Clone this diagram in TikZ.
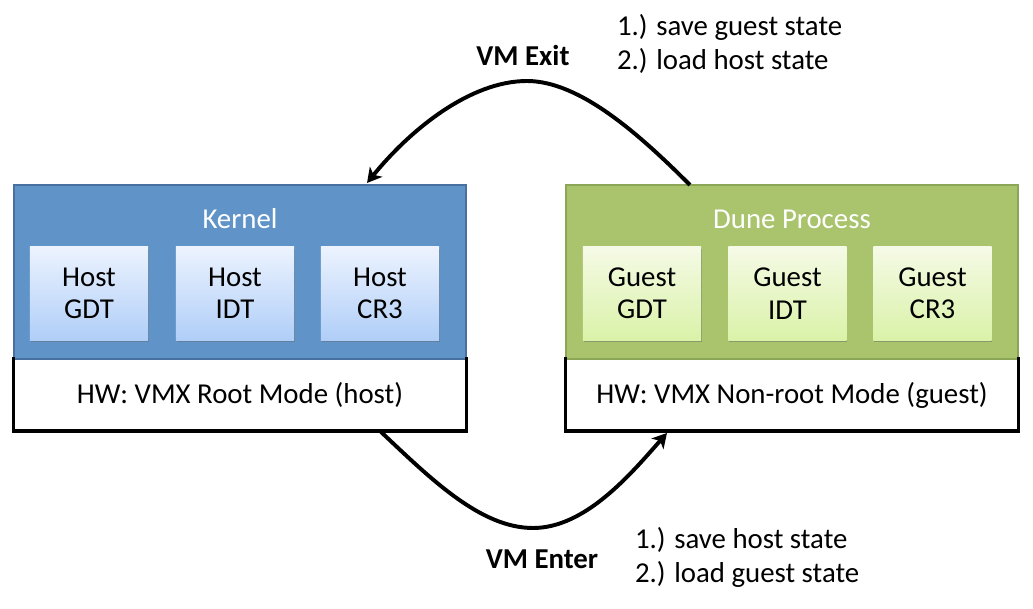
\documentclass[tikz,border=0pt]{standalone}
\usepackage{fontspec}
\setmainfont{Carlito}
\usetikzlibrary{arrows.meta,shadows}

\definecolor{kernelfill}{RGB}{96,148,200}
\definecolor{kerneledge}{RGB}{72,112,160}
\definecolor{dunefill}{RGB}{169,196,108}
\definecolor{duneedge}{RGB}{140,166,88}
\definecolor{hosttop}{RGB}{236,243,254}
\definecolor{hostbot}{RGB}{176,206,248}
\definecolor{guesttop}{RGB}{245,250,230}
\definecolor{guestbot}{RGB}{218,242,168}

\begin{document}
\begin{tikzpicture}[x=0.025cm, y=-0.025cm, inner sep=0, outer sep=0,
  font=\fontsize{20.5}{23}\selectfont,
  regionbox/.style={rectangle, minimum width=11.3cm, minimum height=4.35cm, line width=1.2pt},
  hwbox/.style={rectangle, fill=white, minimum width=11.3cm, minimum height=1.8cm},
  tablebox/.style={rectangle, align=center, minimum width=2.95cm, minimum height=2.325cm,
    drop shadow={shadow xshift=0.6pt, shadow yshift=-1.2pt, opacity=0.45, fill=black!60}},
  hosttable/.style={tablebox, top color=hosttop, bottom color=hostbot},
  guesttable/.style={tablebox, top color=guesttop, bottom color=guestbot},
  switch/.style={line width=2.8pt, -{Stealth[length=0.36cm, width=0.4cm, inset=0.1cm]}}]
  \useasboundingbox (0,0) rectangle (1033,609);

  % hardware layers
  \node[hwbox] (hosthw) at (240, 395) {HW: VMX Root Mode (host)};
  \node[hwbox] (guesthw) at (792, 395) {HW: VMX Non-root Mode (guest)};

  % software on top
  \node[regionbox, draw=kerneledge, fill=kernelfill] (kernel) at (240, 272) {};
  \node[regionbox, draw=duneedge, fill=dunefill] (dune) at (792, 272) {};
  \draw[line width=2.2pt, line cap=rect] (kernel.south west) -- (hosthw.south west) -- (hosthw.south east) -- (kernel.south east);
  \draw[line width=2.2pt, line cap=rect] (dune.south west) -- (guesthw.south west) -- (guesthw.south east) -- (dune.south east);

  \node[text=white] (kernellabel) at (240, 219) {Kernel};
  \node[text=white] (dunelabel) at (792, 219) {Dune Process};

  \node[hosttable] (hostgdt) at (89, 293.5) {Host\\GDT};
  \node[hosttable] (hostidt) at (235, 293.5) {Host\\IDT};
  \node[hosttable] (hostcr3) at (380, 293.5) {Host\\CR3};

  \node[guesttable] (guestgdt) at (642, 293.5) {Guest\\GDT};
  \node[guesttable] (guestidt) at (787.5, 293.5) {Guest\\IDT};
  \node[guesttable] (guestcr3) at (932.5, 293.5) {Guest\\CR3};

  % transitions
  \coordinate (exitfrom) at ([xshift=3.1cm]dune.north west);
  \coordinate (exittop) at (527, 81);
  \coordinate (exitto) at ([xshift=-2.475cm, yshift=0.05cm]kernel.north east);
  \draw[switch] (exitfrom) .. controls (640, 135) and (580, 81) .. (exittop)
    .. controls (470, 81) and (410, 130) .. (exitto);

  \coordinate (enterfrom) at ([xshift=9.15cm]hosthw.south west);
  \coordinate (enterbottom) at (533, 528);
  \coordinate (enterto) at ([xshift=2.525cm, yshift=-0.05cm]guesthw.south west);
  \draw[switch] (enterfrom) .. controls (430, 478) and (480, 528) .. (enterbottom)
    .. controls (585, 528) and (630, 475) .. (enterto);

  \node[font=\fontsize{20.5}{23}\selectfont\bfseries] (exitlabel) at (523, 55) {VM Exit};
  \node[anchor=west, align=left, font=\fontsize{20.5}{24.2}\selectfont] (exitsteps) at (617, 44) {1.) save guest state\\2.) load host state};

  \node[font=\fontsize{20.5}{23}\selectfont\bfseries] (enterlabel) at (542, 559) {VM Enter};
  \node[anchor=west, align=left, font=\fontsize{20.5}{24.2}\selectfont] (entersteps) at (635, 557) {1.) save host state\\2.) load guest state};
\end{tikzpicture}
\end{document}
